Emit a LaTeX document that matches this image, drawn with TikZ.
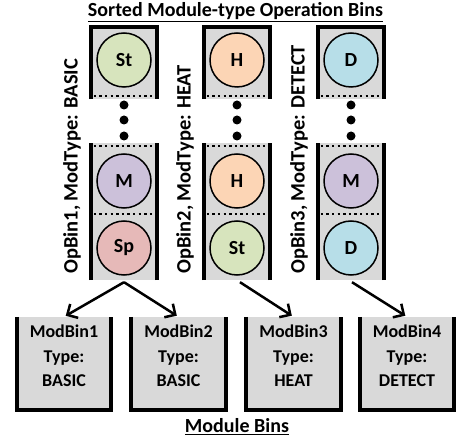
\documentclass[tikz,border=0pt]{standalone}
\usepackage{fontspec}
\setmainfont{Carlito}
\usetikzlibrary{arrows.meta}

\definecolor{binfill}{HTML}{D9D9D9}
\definecolor{opSt}{HTML}{D7E4BD}
\definecolor{opH}{HTML}{FCD5B5}
\definecolor{opD}{HTML}{B7DEE8}
\definecolor{opM}{HTML}{CCC1DA}
\definecolor{opSp}{HTML}{E6B9B8}

\tikzset{
  binbody/.style={rectangle, fill=binfill, draw=none, inner sep=0pt, minimum width=70pt},
  wall/.style={line width=4pt, line join=miter},
  slot/.style={line width=2.4pt, dash pattern=on 2.4pt off 3.2pt},
  opnode/.style={circle, draw, line width=1.5pt, minimum size=54pt, inner sep=0pt,
                 font=\bfseries\fontsize{20}{22}\selectfont},
  ellip/.style={circle, fill=black, minimum size=9pt, inner sep=0pt},
  binlabel/.style={rotate=90, anchor=west, inner sep=0pt,
                   font=\bfseries\fontsize{20.5}{22}\selectfont},
  modbox/.style={rectangle, fill=binfill, draw=none, inner sep=0pt,
                 minimum width=98pt, minimum height=95pt},
  modtext/.style={align=center, inner sep=0pt,
                  font=\bfseries\fontsize{18}{24.5}\selectfont},
  heading/.style={inner sep=0pt, font=\bfseries\fontsize{20}{22}\selectfont},
  feed/.style={line width=2.5pt, -{Straight Barb[length=8pt,width=16pt,line width=2.5pt]},
               shorten >=2pt}
}

\begin{document}
\begin{tikzpicture}[x=1pt,y=-1pt]
\useasboundingbox (0,0) rectangle (457,443);

% headings
\node[heading] (title) at (235.5,12) {\underline{Sorted Module-type Operation Bins}};
\node[heading] (mtitle) at (237,427) {\underline{Module Bins}};

% operation bins, one column per module type
\foreach \n/\x/\topop/\topc/\midop/\midc/\lowop/\lowc/\lab in {
    1/124/St/opSt/M/opM/Sp/opSp/{OpBin1, ModType: BASIC},
    2/237/H/opH/H/opH/St/opSt/{OpBin2, ModType: HEAT},
    3/351/D/opD/M/opM/D/opD/{OpBin3, ModType: DETECT}} {
  % upper part of the bin
  \node[binbody, minimum height=74pt] (top\n) at (\x,62) {};
  \draw[wall] ([xshift=2pt]top\n.south west) -- ([xshift=2pt,yshift=-2pt]top\n.north west)
              -- ([xshift=-2pt,yshift=-2pt]top\n.north east) -- ([xshift=-2pt]top\n.south east);
  \draw[slot] ([xshift=5pt]top\n.west |- 0,96) -- ([xshift=-5pt]top\n.east |- 0,96);
  \node[opnode, fill=\topc] (opA\n) at (\x,60) {\topop};
  % ellipsis between the parts
  \node[ellip] (dotA\n) at (\x,105) {};
  \node[ellip] (dotB\n) at (\x,120) {};
  \node[ellip] (dotC\n) at (\x,136) {};
  % lower part of the bin
  \node[binbody, minimum height=137pt] (low\n) at (\x,211.5) {};
  \draw[wall] ([xshift=2pt]low\n.south west) -- ([xshift=2pt]low\n.north west);
  \draw[wall] ([xshift=-2pt]low\n.south east) -- ([xshift=-2pt]low\n.north east);
  \draw[slot] ([xshift=5pt]low\n.west |- 0,146) -- ([xshift=-5pt]low\n.east |- 0,146);
  \draw[slot] ([xshift=5pt]low\n.west |- 0,214) -- ([xshift=-5pt]low\n.east |- 0,214);
  \node[opnode, fill=\midc] (opB\n) at (\x,181) {\midop};
  \node[opnode, fill=\lowc] (opC\n) at (\x,248) {\lowop};
  % bin label
  \node[binlabel] (lab\n) at (\x-52,274) {\lab};
  \coordinate (out\n) at ([yshift=-2pt]low\n.south);
}

% module bins
\foreach \m/\x/\t in {1/64/BASIC, 2/178.5/BASIC, 3/293.5/HEAT, 4/407/DETECT} {
  \node[modbox] (mod\m) at (\x,364.5) {};
  \draw[wall] ([xshift=2pt]mod\m.north west) -- ([xshift=2pt,yshift=2pt]mod\m.south west)
              -- ([xshift=-2pt,yshift=2pt]mod\m.south east) -- ([xshift=-2pt]mod\m.north east);
  \node[modtext] (modt\m) at (\x,356) {ModBin\m\\Type:\\\t};
}

% assignment of operation bins to module bins
\draw[feed] (out1) -- (mod1.north);
\draw[feed] (out1) -- (mod2.north);
\draw[feed] ([xshift=3pt]out2) -- (mod3.north);
\draw[feed] ([xshift=1pt]out3) -- (mod4.north);
\end{tikzpicture}
\end{document}
